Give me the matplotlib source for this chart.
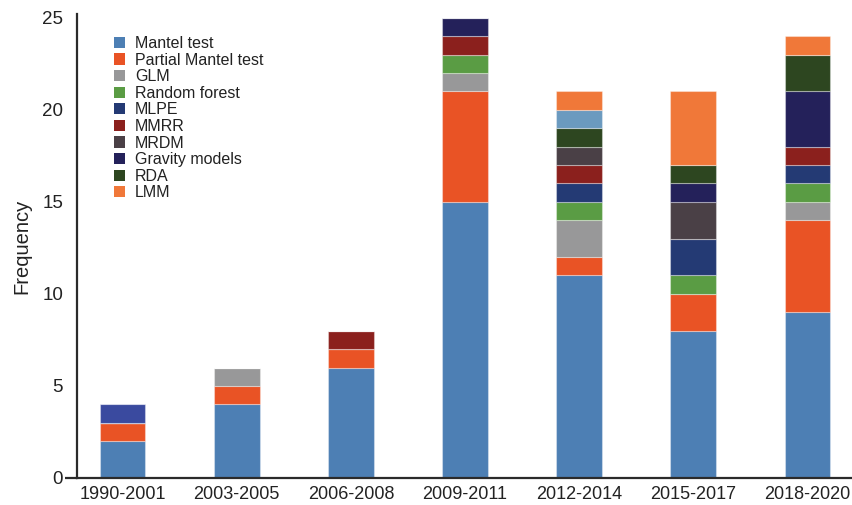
import matplotlib.pyplot as plt
import numpy as np
from matplotlib.patches import Patch

plt.rcParams['font.family'] = ['Liberation Sans', 'DejaVu Sans']

# frequency of methods per publication period
periods = ['1990-2001', '2003-2005', '2006-2008', '2009-2011',
           '2012-2014', '2015-2017', '2018-2020']

mantel = [2, 4, 6, 15, 11, 8, 9]
partial_mantel = [1, 1, 1, 6, 1, 2, 5]
glm = [0, 1, 0, 1, 2, 0, 1]
random_forest = [0, 0, 0, 1, 1, 1, 1]
mlpe = [0, 0, 0, 0, 1, 2, 1]
mmrr = [0, 0, 1, 1, 1, 0, 1]
mrdm = [0, 0, 0, 0, 1, 2, 0]
gravity = [0, 0, 0, 1, 0, 1, 3]
rda = [0, 0, 0, 0, 1, 1, 2]
unlisted = [1, 0, 0, 0, 1, 0, 0]   # segments that have no legend entry
lmm = [0, 0, 0, 0, 1, 4, 1]

names = ['Mantel test', 'Partial Mantel test', 'GLM', 'Random forest', 'MLPE',
         'MMRR', 'MRDM', 'Gravity models', 'RDA', None, 'LMM']
series = [mantel, partial_mantel, glm, random_forest, mlpe,
          mmrr, mrdm, gravity, rda, unlisted, lmm]
colors = ['#4d7fb4', '#e95325', '#989899', '#5a9c44', '#243a74',
          '#8b201d', '#4a4046', '#24215a', '#2d4620', None, '#f07839']
unlisted_colors = ['#3a4a9f', '#3a4a9f', '#3a4a9f', '#3a4a9f',
                   '#6b9abf', '#6b9abf', '#6b9abf']

fig = plt.figure(figsize=(8.53, 5.05), dpi=100)
ax = fig.add_axes([77/853, 27/505, 1-77/853, 1-27/505-14/505])

x = np.arange(len(periods))
bottom = np.zeros(len(periods))
for vals, c in zip(series, colors):
    col = unlisted_colors if c is None else c
    ax.bar(x, vals, 0.4, bottom=bottom, color=col,
           edgecolor=(1, 1, 1, 0.35), linewidth=0.8)
    bottom += np.array(vals)

ax.set_xlim(-0.40, 6.40)
ax.set_ylim(0, 25.2)

#axes styling
for s in ['top', 'right']:
    ax.spines[s].set_visible(False)
for s in ['left', 'bottom']:
    ax.spines[s].set_linewidth(1.6)
    ax.spines[s].set_color('#2b2b2b')

ax.set_yticks([0, 5, 10, 15, 20, 25])
ax.tick_params(axis='y', length=0, width=1.6, color='#2b2b2b', pad=10,
               labelsize=13.5, labelcolor='#222222')
#only the zero tick is drawn
zero_tick = ax.yaxis.get_major_ticks()[0]
zero_tick.tick1line.set_markersize(9)
ax.set_xticks(x)
ax.set_xticklabels(periods)
ax.tick_params(axis='x', length=0, pad=6, labelsize=13, labelcolor='#222222')
ax.set_ylabel('Frequency', fontsize=14.5, color='#222222', labelpad=8)

handles = [Patch(facecolor=c, label=n) for n, c in zip(names, colors) if n]
fig.legend(handles=handles, loc='upper left', bbox_to_anchor=(114/853, 1-36/505),
           frameon=False, fontsize=11.5, handlelength=0.7, handleheight=0.7,
           handletextpad=0.6, labelspacing=0.1, borderpad=0, borderaxespad=0,
           labelcolor='#222222')

fig.savefig('out.png', dpi=100)
